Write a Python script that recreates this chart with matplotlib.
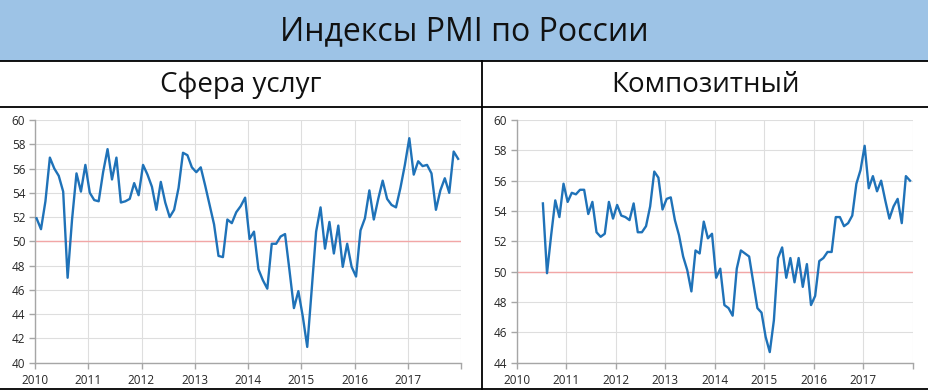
import matplotlib
matplotlib.use("Agg")
import matplotlib.pyplot as plt
from matplotlib.lines import Line2D
from matplotlib.patches import Rectangle
import numpy as np

plt.rcParams['font.family'] = ['Open Sans', 'DejaVu Sans']

title = "Индексы PMI по России"
sub_left = "Сфера услуг"
sub_right = "Композитный"

start_year = 2010
years = list(range(2010, 2019))
year_labels = ["2010", "2011", "2012", "2013", "2014", "2015", "2016", "2017", ""]

# Services PMI, monthly Jan 2010 - Dec 2017
services = [51.9, 51.0, 53.3, 56.9, 56.0, 55.4, 54.1, 47.0, 51.8, 55.6, 54.1, 56.3,
            54.0, 53.4, 53.3, 55.7, 57.6, 55.1, 56.9, 53.2, 53.3, 53.5, 54.8, 53.8,
            56.3, 55.5, 54.5, 52.6, 54.9, 53.2, 52.0, 52.6, 54.4, 57.3, 57.1, 56.1,
            55.7, 56.1, 54.6, 53.0, 51.4, 48.8, 48.7, 51.8, 51.5, 52.4, 52.9, 53.6,
            50.2, 50.8, 47.7, 46.8, 46.1, 49.8, 49.8, 50.4, 50.6, 47.6, 44.5, 45.9,
            43.8, 41.3, 46.0, 50.8, 52.8, 49.4, 51.6, 49.0, 51.3, 47.9, 49.8, 47.9,
            47.1, 50.9, 51.9, 54.2, 51.8, 53.5, 55.0, 53.5, 53.0, 52.8, 54.4, 56.3,
            58.5, 55.5, 56.6, 56.2, 56.3, 55.6, 52.6, 54.2, 55.2, 54.0, 57.4, 56.8]

# Composite PMI, monthly Jul 2010 - Dec 2017
composite_start = 6
composite = [54.5, 49.9, 52.4, 54.7, 53.6, 55.8,
             54.6, 55.2, 55.1, 55.4, 55.4, 53.8, 54.6, 52.6, 52.3, 52.5, 54.6, 53.5,
             54.4, 53.7, 53.6, 53.4, 54.5, 52.6, 52.6, 53.0, 54.3, 56.6, 56.2, 54.1,
             54.8, 54.9, 53.4, 52.4, 51.0, 50.1, 48.7, 51.4, 51.2, 53.3, 52.2, 52.5,
             49.6, 50.2, 47.8, 47.6, 47.1, 50.2, 51.4, 51.2, 51.0, 49.3, 47.6, 47.3,
             45.7, 44.7, 46.8, 50.9, 51.6, 49.6, 50.9, 49.3, 50.9, 49.0, 50.5, 47.8,
             48.4, 50.7, 50.9, 51.3, 51.3, 53.6, 53.6, 53.0, 53.2, 53.7, 55.8, 56.7,
             58.3, 55.5, 56.3, 55.3, 56.0, 54.7, 53.5, 54.3, 54.8, 53.2, 56.3, 56.0]

W, H = 929, 392
fig = plt.figure(figsize=(W / 100, H / 100), dpi=100)
fig.patch.set_facecolor('white')

def fx(px):
    return px / W

def fy(py):
    return 1 - py / H

# title band
fig.patches.append(Rectangle((0, fy(61)), 1, 1 - fy(61), transform=fig.transFigure,
                             facecolor='#9DC3E6', edgecolor='none', zorder=0))
for yy in (61, 107, 389):
    fig.add_artist(Line2D([0, 1], [fy(yy), fy(yy)], transform=fig.transFigure,
                          color='black', lw=1.3))
fig.add_artist(Line2D([fx(481.7), fx(481.7)], [fy(61), fy(389)], transform=fig.transFigure,
                      color='black', lw=1.3))

fig.text(0.5, fy(32), title, ha='center', va='center', fontsize=23, color='#111111')
fig.text(fx(240.8), fy(85), sub_left, ha='center', va='center', fontsize=20, color='#111111')
fig.text(fx(705.3), fy(85), sub_right, ha='center', va='center', fontsize=20, color='#111111')

line_color = '#1F72B8'
grid_color = '#DEDEDE'
axis_color = '#A6A6A6'
ref_color = '#F2A6A6'

def month_x(idx):
    return start_year + (np.asarray(idx) + 0.35) / 12.0

def setup(ax, ymin, ymax):
    ax.set_xlim(2010, 2018)
    ax.set_ylim(ymin, ymax)
    ax.set_yticks(np.arange(ymin, ymax + 0.1, 2))
    ax.set_xticks(years)
    ax.set_xticklabels(year_labels)
    ax.grid(True, color=grid_color, lw=0.8)
    ax.set_axisbelow(True)
    for s in ('top', 'right'):
        ax.spines[s].set_visible(False)
    for s in ('left', 'bottom'):
        ax.spines[s].set_color(axis_color)
        ax.spines[s].set_linewidth(1.0)
    ax.tick_params(axis='both', colors=axis_color, labelcolor='#262626',
                   labelsize=8.5, length=4, width=1.0, direction='out')
    ax.tick_params(axis='x', pad=4)
    ax.tick_params(axis='y', pad=3)
    ax.axhline(50, color=ref_color, lw=1.0, zorder=1)

ax1 = fig.add_axes([fx(35), fy(362.7), fx(461) - fx(35), fy(120) - fy(362.7)])
setup(ax1, 40, 60)
ax1.plot(month_x(range(len(services))), services, color=line_color, lw=1.7, zorder=3)

ax2 = fig.add_axes([fx(516.7), fy(362.7), fx(912.7) - fx(516.7), fy(120) - fy(362.7)])
setup(ax2, 44, 60)
ax2.plot(month_x(range(composite_start, composite_start + len(composite))), composite,
         color=line_color, lw=1.7, zorder=3)

fig.savefig('out.png', dpi=100, facecolor='white')
